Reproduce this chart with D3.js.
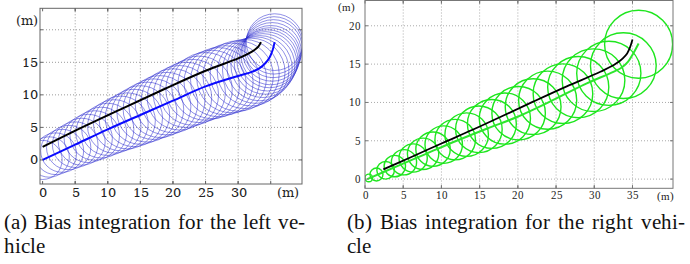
<!DOCTYPE html>
<html><head><meta charset="utf-8">
<script src="https://cdn.jsdelivr.net/npm/d3@7"></script>
<style>
@font-face{font-family:"CapSerif";src:local("Liberation Serif"),local("LiberationSerif"),local("Liberation Serif Regular"),local("LiberationSerif-Regular");}
@font-face{font-family:"TickSerif";src:local("DejaVu Serif"),local("DejaVuSerif"),local("DejaVu Serif Book");}
body{margin:0}
#chart{position:absolute;left:0;top:0;}
.cap{position:absolute;font-family:CapSerif,'Liberation Serif',serif;font-size:21px;line-height:24px;color:#111;white-space:nowrap;}
.just{text-align:justify;text-align-last:justify;}
</style>
</head><body>
<div class="cap just" style="left:4px;top:210px;width:301px">(a)  Bias integration for the left ve-</div>
<div class="cap" style="left:4px;top:234px">hicle</div>
<div class="cap just" style="left:347px;top:210px;width:338px">(b)  Bias integration for the right vehi-</div>
<div class="cap" style="left:347px;top:234px">cle</div>
<script>
// ---------- data: left panel (a) ----------
const leftXTicks = [0, 5, 10, 15, 20, 25, 30];
const leftYTicks = [0, 5, 10, 15];
const leftXGrid = [5, 10, 15, 20, 25, 30, 35];
const leftYGrid = [0, 5, 10, 15, 20];
const leftBlackX = [0, 4.4, 11.8, 18.7, 25, 30, 31.5, 32.5, 33.1, 33.5];
const leftBlackY = [2.0, 4.2, 7.7, 10.9, 13.7, 15.6, 16.3, 16.9, 17.4, 18.1];
const leftBlueX = [0, 5, 10, 15, 20, 25, 30, 32, 33.3, 34.2, 34.8, 35.3, 35.6];
const leftBlueY = [0, 2.35, 4.7, 6.9, 9.1, 11.3, 12.9, 13.5, 14.1, 14.9, 15.7, 16.9, 18.1];
const leftCircleX = [0, 1, 2, 3, 4, 5, 6, 7, 8, 9, 10, 11, 12, 13, 14, 15, 16, 17, 18, 19, 20, 21, 22, 23, 24, 25, 26, 27, 28, 29, 30, 31, 32, 32.7, 33.3, 33.8, 34.2, 34.5, 34.8, 35.0, 35.2, 35.4, 35.5, 35.6];
const leftCircleY = [0, 0.45, 0.95, 1.4, 1.9, 2.35, 2.8, 3.3, 3.75, 4.2, 4.7, 5.15, 5.6, 6.0, 6.45, 6.9, 7.35, 7.8, 8.2, 8.65, 9.1, 9.55, 10.0, 10.4, 10.85, 11.3, 11.6, 11.95, 12.25, 12.6, 12.9, 13.2, 13.5, 13.8, 14.1, 14.5, 14.9, 15.3, 15.7, 16.1, 16.6, 17.1, 17.6, 18.1];
const leftCircleR = [3.0, 3.1, 3.2, 3.3, 3.4, 3.5, 3.6, 3.7, 3.8, 3.9, 4.0, 4.1, 4.2, 4.3, 4.4, 4.5, 4.6, 4.65, 4.75, 4.8, 4.9, 4.95, 5.0, 5.05, 5.1, 5.2, 5.25, 5.3, 5.3, 5.35, 5.4, 5.3, 5.2, 5.1, 5.0, 4.9, 4.8, 4.7, 4.6, 4.55, 4.5, 4.45, 4.4, 4.35];

// ---------- data: right panel (b) ----------
const rightXTicks = [0, 5, 10, 15, 20, 25, 30, 35];
const rightYTicks = [0, 5, 10, 15, 20];
const rightBlackX = [2.4, 6, 10, 14, 17.7, 22.0, 26.4, 30.8, 32.9, 34.3, 35.0];
const rightBlackY = [1.26, 2.85, 4.65, 6.4, 8.1, 10.1, 12.1, 14.0, 15.1, 16.4, 18.2];
const rightGreenX = [0.3, 4, 8, 12, 16, 19.9, 24.2, 28.6, 32.5, 33.5, 34.4, 35.1, 35.8];
const rightGreenY = [0.0, 1.6, 3.3, 5.0, 6.6, 8.1, 10.1, 12.3, 14.0, 14.5, 15.3, 16.4, 17.7];
const rightCircleX = [0.5, 1.5, 2.7, 3.9, 5.1, 6.3, 7.6, 8.9, 10.3, 11.8, 13.3, 14.9, 16.6, 18.3, 20.1, 22.0, 23.9, 25.9, 27.9, 29.9, 31.9, 33.8, 35.8];
const rightCircleY = [0.15, 0.6, 1.15, 1.7, 2.2, 2.75, 3.3, 3.9, 4.5, 5.15, 5.8, 6.5, 7.2, 7.9, 8.6, 9.45, 10.3, 11.15, 12.0, 12.9, 13.8, 14.8, 17.6];
const rightCircleR = [0.5, 0.85, 1.15, 1.4, 1.65, 1.85, 2.05, 2.25, 2.45, 2.65, 2.85, 3.05, 3.2, 3.35, 3.5, 3.65, 3.8, 3.9, 4.0, 4.1, 4.2, 4.3, 4.45];

const svg = d3.select("body").append("svg").attr("id", "chart").attr("width", 690).attr("height", 205);

function zip(xs, ys) { return xs.map((x, i) => [x, ys[i]]); }

function panel(opt) {
  const g = svg.append("g");
  const x = d3.scaleLinear().domain(opt.xd).range(opt.xr);
  const y = d3.scaleLinear().domain(opt.yd).range(opt.yr);
  const [x0, x1] = opt.xr, [y1, y0] = opt.yr;
  g.append("clipPath").attr("id", opt.id).append("rect")
    .attr("x", x0).attr("y", y0).attr("width", x1 - x0).attr("height", y1 - y0);
  g.append("g").selectAll("line").data(opt.xGrid).join("line")
    .attr("x1", d => x(d)).attr("x2", d => x(d)).attr("y1", y0).attr("y2", y1)
    .attr("stroke", opt.gridColor).attr("stroke-width", 1).attr("stroke-dasharray", "1,2");
  g.append("g").selectAll("line").data(opt.yGrid).join("line")
    .attr("y1", d => y(d)).attr("y2", d => y(d)).attr("x1", x0).attr("x2", x1)
    .attr("stroke", opt.gridColor).attr("stroke-width", 1).attr("stroke-dasharray", "1,2");
  const plot = g.append("g").attr("clip-path", `url(#${opt.id})`);
  plot.append("g").selectAll("circle").data(opt.cx.map((c, i) => [c, opt.cy[i], opt.cr[i]])).join("circle")
    .attr("cx", d => x(d[0])).attr("cy", d => y(d[1]))
    .attr("r", d => x(d[2]) - x(0))
    .attr("fill", "none").attr("stroke", opt.circleColor)
    .attr("stroke-width", opt.circleWidth).attr("stroke-opacity", opt.circleOpacity);
  const line = d3.line().x(d => x(d[0])).y(d => y(d[1])).curve(d3.curveCatmullRom);
  plot.append("path").datum(zip(opt.lx2, opt.ly2)).attr("d", line)
    .attr("fill", "none").attr("stroke", opt.line2Color).attr("stroke-width", opt.line2Width);
  plot.append("path").datum(zip(opt.lx1, opt.ly1)).attr("d", line)
    .attr("fill", "none").attr("stroke", "#000").attr("stroke-width", opt.line1Width);
  g.append("rect").attr("x", x0).attr("y", y0).attr("width", x1 - x0).attr("height", y1 - y0)
    .attr("fill", "none").attr("stroke", opt.frameColor).attr("stroke-width", 1);
  const tk = g.append("g").attr("stroke", opt.frameColor).attr("stroke-width", 1);
  opt.xGrid.concat(opt.xTicks).forEach(d => {
    tk.append("line").attr("x1", x(d)).attr("x2", x(d)).attr("y1", y1).attr("y2", y1 - 3);
    tk.append("line").attr("x1", x(d)).attr("x2", x(d)).attr("y1", y0).attr("y2", y0 + 3);
  });
  opt.yGrid.forEach(d => {
    tk.append("line").attr("y1", y(d)).attr("y2", y(d)).attr("x1", x0).attr("x2", x0 + 3);
    tk.append("line").attr("y1", y(d)).attr("y2", y(d)).attr("x1", x1).attr("x2", x1 - 3);
  });
  const ax = g.append("g").attr("transform", `translate(0,${opt.xLabelY})`)
    .call(d3.axisBottom(x).tickValues(opt.xTicks).tickSize(0).tickPadding(0).tickFormat(d3.format("d")));
  const ay = g.append("g").attr("transform", `translate(${opt.yLabelX},0)`)
    .call(d3.axisLeft(y).tickValues(opt.yTicks).tickSize(0).tickPadding(0).tickFormat(d3.format("d")));
  [ax, ay].forEach(a => {
    a.attr("font-family", opt.font).attr("font-size", opt.fontSize);
    a.select(".domain").remove();
    a.selectAll("text").attr("font-family", opt.font).attr("font-size", opt.fontSize).attr("fill", "#222");
  });
  ax.selectAll("text").attr("dy", "0.71em");
  g.append("text").attr("x", opt.mx[0]).attr("y", opt.mx[1]).attr("text-anchor", "middle")
    .attr("font-family", opt.font).attr("font-size", opt.fontSize).attr("fill", "#222").attr("dy", "0.35em").text("(m)");
  g.append("text").attr("x", opt.my[0]).attr("y", opt.my[1]).attr("text-anchor", "end")
    .attr("font-family", opt.font).attr("font-size", opt.fontSize).attr("fill", "#222").attr("dy", "0.35em").text("(m)");
}

panel({
  id: "clipA", xd: [-0.4, 39.8], xr: [40, 302], yd: [-3.7, 23.3], yr: [184, 8.3],
  xGrid: leftXGrid, yGrid: leftYGrid, xTicks: leftXTicks, yTicks: leftYTicks,
  cx: leftCircleX, cy: leftCircleY, cr: leftCircleR,
  circleColor: "#2a2ad0", circleWidth: 0.7, circleOpacity: 0.75,
  lx1: leftBlackX, ly1: leftBlackY, line1Width: 2,
  lx2: leftBlueX, ly2: leftBlueY, line2Color: "#0a0aff", line2Width: 2,
  gridColor: "#9a9a9a", frameColor: "#666",
  font: "TickSerif, DejaVu Serif, serif", fontSize: 12.5, xLabelY: 188, yLabelX: 38,
  mx: [288, 193], my: [38, 21]
});

panel({
  id: "clipB", xd: [0, 40.3], xr: [365, 673], yd: [-1.2, 23.3], yr: [188.3, 0.5],
  xGrid: [5, 10, 15, 20, 25, 30, 35], yGrid: [0, 5, 10, 15, 20], xTicks: rightXTicks, yTicks: rightYTicks,
  cx: rightCircleX, cy: rightCircleY, cr: rightCircleR,
  circleColor: "#1ee61e", circleWidth: 1.4, circleOpacity: 1,
  lx1: rightBlackX, ly1: rightBlackY, line1Width: 1.8,
  lx2: rightGreenX, ly2: rightGreenY, line2Color: "#2ee62e", line2Width: 2,
  gridColor: "#aaa", frameColor: "#777",
  font: "CapSerif, Liberation Serif, serif", fontSize: 11, xLabelY: 191, yLabelX: 361,
  mx: [665, 196], my: [355, 7]
});
</script>
</body></html>
